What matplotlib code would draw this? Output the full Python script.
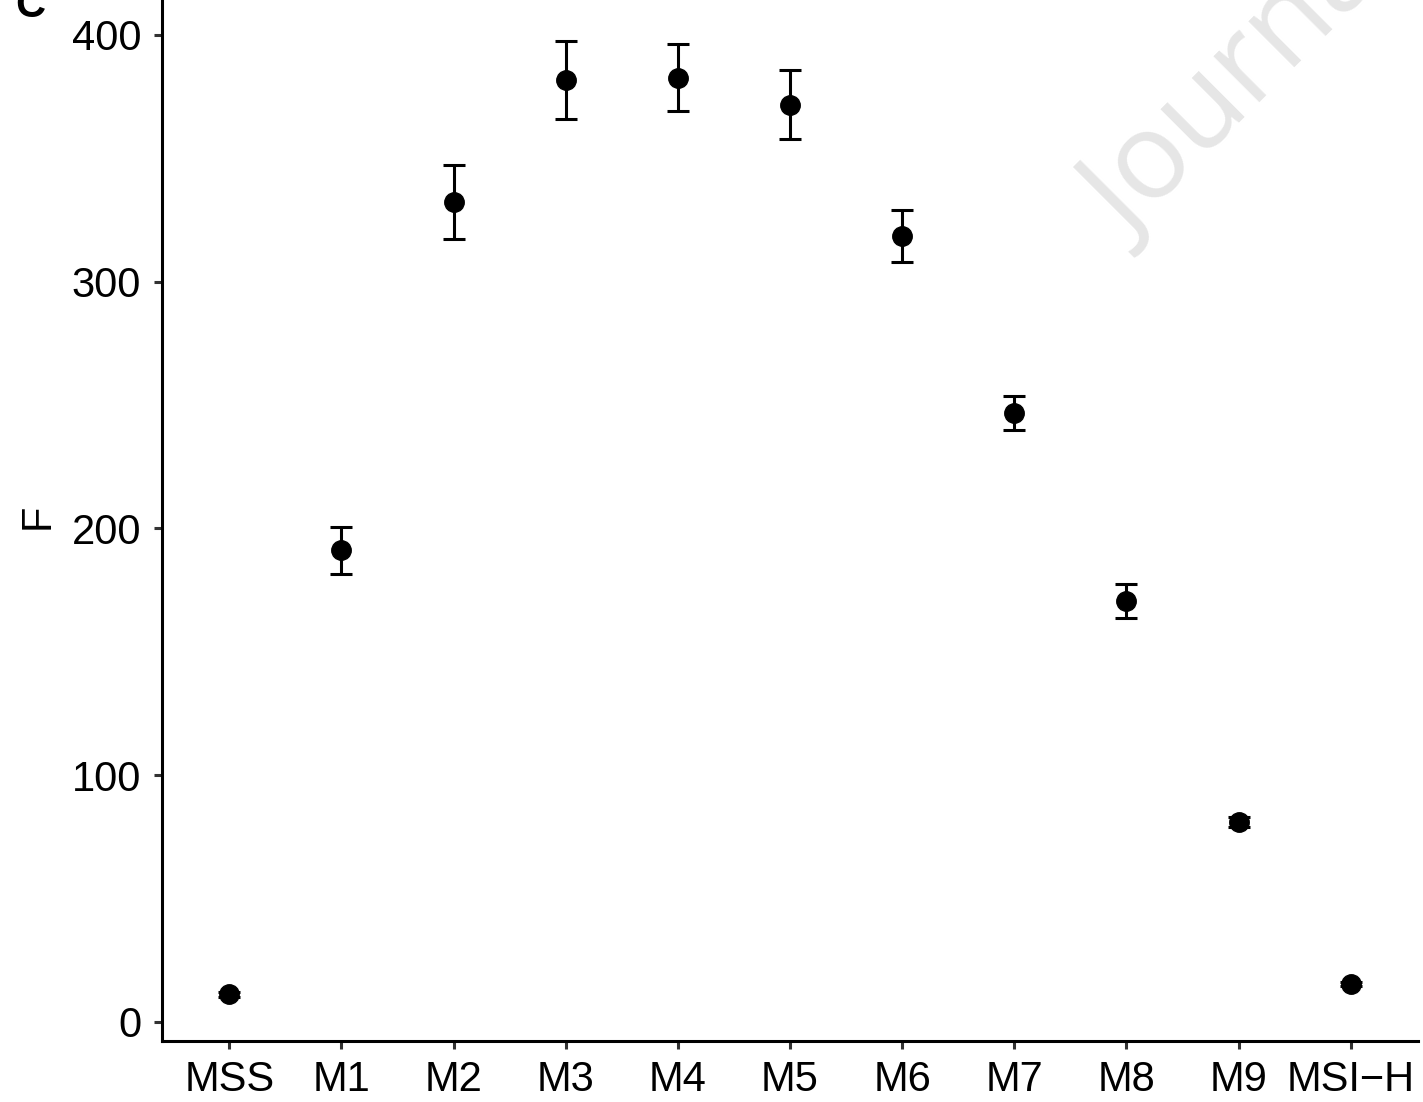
import matplotlib
matplotlib.use("Agg")
import matplotlib.pyplot as plt
import numpy as np

plt.rcParams["font.family"] = ["Liberation Sans", "DejaVu Sans"]

# Group labels, mean F and half-width of the error bars
groups = ["MSS", "M1", "M2", "M3", "M4", "M5", "M6", "M7", "M8", "M9", "MSI\u2212H"]
f_mean = [11.3, 191.1, 332.4, 381.8, 382.6, 371.7, 318.6, 246.6, 170.4, 81.0, 15.4]
f_err = [1.0, 9.5, 15.0, 15.8, 13.6, 13.8, 10.5, 6.9, 6.9, 2.0, 1.0]
y_ticks = [0, 100, 200, 300, 400]

W, H = 1423, 1102
fig = plt.figure(figsize=(W / 100, H / 100), dpi=100)

# Axes box in pixel terms: left spine at x=162, bottom spine at y=1041
left, right, bottom_px, top_px = 162, 1418, 1041, -8
ax = fig.add_axes([left / W, (H - bottom_px) / H,
                   (right - left) / W, (bottom_px - top_px) / H])
ax.set_facecolor("none")

x = np.arange(1, len(groups) + 1)
ax.errorbar(x, f_mean, yerr=f_err, fmt="o", color="black",
            markersize=14, elinewidth=2.2, capsize=8, capthick=2.2,
            zorder=3)

ax.set_xlim(0.4, len(groups) + 0.6)
ax.set_ylim(-7.7, 417.3)
ax.set_xticks(x)
ax.set_xticklabels(groups)
ax.set_yticks(y_ticks)

for side in ("top", "right"):
    ax.spines[side].set_visible(False)
for side in ("left", "bottom"):
    ax.spines[side].set_linewidth(2.2)
    ax.spines[side].set_color("black")

ax.tick_params(axis="both", length=6, width=2.2, color="#333333",
               labelsize=30, labelcolor="black")
ax.tick_params(axis="x", pad=8)
ax.tick_params(axis="y", pad=9)
ax.set_ylabel("F", fontsize=30, labelpad=10)

# Panel letter
fig.text(15 / W, 1 - 17 / H, "C", fontsize=30, fontweight="bold",
         ha="left", va="baseline")

# Diagonal watermark
fig.text(1129 / W, 1 - 242 / H, "Journal Pre-proof", fontsize=87,
         family=["Open Sans", "DejaVu Sans"], color="#e6e6e6",
         rotation=45, rotation_mode="anchor", ha="left", va="baseline",
         zorder=0)

fig.savefig("out.png", dpi=100)
